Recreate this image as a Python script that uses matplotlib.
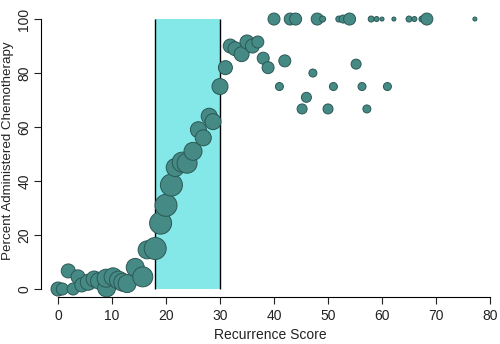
import matplotlib
matplotlib.use("Agg")
import matplotlib.pyplot as plt
from matplotlib.patches import Rectangle

# recurrence score, percent given chemo, relative group size
score = [0, 0.8, 1.9, 2.8, 3.7, 4.4, 5.6, 6.7, 7.5, 9.0, 8.9, 10.2, 11.2, 12.0, 12.8,
         14.3, 15.7, 16.5, 18.0, 19.0, 20.0, 21.0, 21.7, 23.0, 23.9, 25.0, 26.0, 26.9,
         28.0, 28.7, 30.0, 31.0, 31.9, 32.8, 34.0, 35.0, 36.0, 37.0, 38.0, 38.9,
         41.0, 42.0, 45.2, 46.0, 47.2, 50.0, 51.0, 55.2, 56.3, 57.2, 61.0,
         40, 43, 44, 48, 49, 52, 52.8, 54, 58, 59, 60, 62.2, 65, 66, 67.4, 68.3, 77.2]
pct = [0, 0, 6.7, 0, 4.5, 1.5, 2.5, 3.7, 3.0, 0.4, 4.0, 4.5, 3.3, 2.5, 2.0,
       8.0, 4.5, 14.5, 15.0, 24.4, 31.0, 38.5, 45.0, 47.0, 46.6, 51.0, 59.0, 56.0,
       64.0, 62.0, 75.0, 82.0, 90.0, 89.0, 87.0, 91.5, 90.0, 91.5, 85.5, 82.0,
       75.0, 84.5, 66.7, 71.0, 80.0, 66.7, 75.0, 83.3, 75.0, 66.7, 75.0,
       100, 100, 100, 100, 100, 100, 100, 100, 100, 100, 100, 100, 100, 100, 100, 100, 100]
size = [7, 6, 7, 6, 7, 7, 8, 8, 8, 9, 9, 9, 9, 9, 9,
        9, 10, 9, 11, 11, 11, 11, 9, 10, 10, 9, 8, 8,
        8, 8, 8, 7, 7, 7, 7.5, 7, 7, 6, 6, 6,
        4, 6, 5, 5, 4, 5, 4, 5, 4, 4, 4,
        6, 6, 6, 6, 3, 3, 4, 6, 3, 2.5, 2, 2, 3, 2.5, 3, 6, 2]

plt.rcParams['font.family'] = ['Liberation Sans', 'DejaVu Sans']

fig = plt.figure(figsize=(5.0, 3.44), dpi=100)
ax = fig.add_axes([41 / 500, 47 / 344, 459 / 500, 292 / 344])

ax.add_patch(Rectangle((18, 0), 12, 100, facecolor='#84e8e8', edgecolor='none', zorder=1))
ax.vlines([18, 30], 0, 100, colors='black', linewidth=1.0, zorder=2)

s = [(2 * r * 0.72) ** 2 for r in size]
ax.scatter(score, pct, s=s, c='#468a85', edgecolors='#2b5855', linewidths=0.7, zorder=3)

ax.set_xlim(-3.15, 81.85)
ax.set_ylim(-2.96, 105.2)
ax.set_xticks(range(0, 81, 10))
ax.set_yticks(range(0, 101, 20))
ax.spines['top'].set_visible(False)
ax.spines['right'].set_visible(False)
ax.spines['left'].set_bounds(0, 100)
ax.spines['bottom'].set_bounds(0, 80)
ax.tick_params(direction='out', length=5, width=0.8, labelsize=10, colors='#222222')
ax.tick_params(axis='y', pad=2)
for lbl in ax.get_yticklabels():
    lbl.set_rotation(90)
    lbl.set_va('center')
ax.set_xlabel('Recurrence Score', fontsize=10, color='#222222')
ax.set_ylabel('Percent Administered Chemotherapy', fontsize=9.6, color='#222222')
ax.yaxis.set_label_coords(-0.058, 0.5)

fig.savefig('out.png', dpi=100)
